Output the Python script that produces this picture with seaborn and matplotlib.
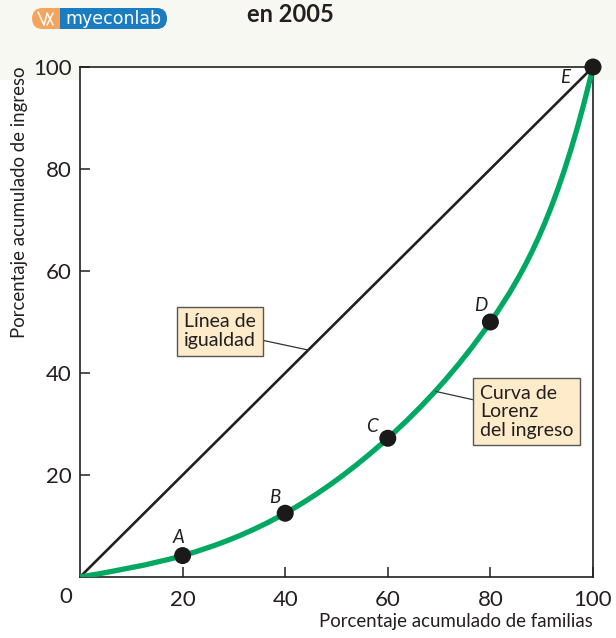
import numpy as np
import pandas as pd
import seaborn as sns
import matplotlib.pyplot as plt
from matplotlib.path import Path
from matplotlib.patches import PathPatch, FancyBboxPatch, Rectangle

# data: cumulative % of families vs cumulative % of income
familias = [0, 20, 40, 60, 80, 100]
ingreso = [0, 4.2, 12.5, 27.2, 50.0, 100]
puntos = ["", "A", "B", "C", "D", "E"]
ticks = [20, 40, 60, 80, 100]

sns.set_theme(style="white")
plt.rcParams['font.family'] = ['Lato', 'DejaVu Sans']
dark = "#231f20"
green = "#00a862"

fig = plt.figure(figsize=(6.16, 6.38), dpi=100)
fig.patch.set_facecolor("white")
# light header band
fig.add_artist(Rectangle((0, 1 - 80 / 638), 1, 80 / 638, transform=fig.transFigure,
                         facecolor="#f8f8f3", edgecolor="none", zorder=-10))

ax = fig.add_axes([80 / 616, 1 - 577 / 638, (593 - 80) / 616, (577 - 67) / 638])
ax.set_facecolor("white")

df = pd.DataFrame({"x": familias, "y": ingreso, "p": puntos})

# line of equality
sns.lineplot(x=[0, 100], y=[0, 100], color=dark, lw=1.9, ax=ax, zorder=3)

# smooth Lorenz curve through the points: C2 cubic spline drawn as Bezier segments
# (natural end at the origin, steep clamped end at E)
P = np.column_stack([familias, ingreso]).astype(float)
n = len(P)
hx = np.diff(P[:, 0])
chord = np.diff(P[:, 1]) / hx
A = np.zeros((n, n))
b = np.zeros(n)
A[0, 0], A[0, 1], b[0] = 2, 1, 3 * chord[0]
for i in range(1, n - 1):
    A[i, i - 1], A[i, i], A[i, i + 1] = 1 / hx[i - 1], 2 / hx[i - 1] + 2 / hx[i], 1 / hx[i]
    b[i] = 3 * (chord[i - 1] / hx[i - 1] + chord[i] / hx[i])
A[-1, -1], b[-1] = 1, 1.7 * chord[-1]
m = np.linalg.solve(A, b)
verts = [tuple(P[0])]
codes = [Path.MOVETO]
for i in range(n - 1):
    h = hx[i] / 3
    verts += [(P[i, 0] + h, P[i, 1] + m[i] * h),
              (P[i + 1, 0] - h, P[i + 1, 1] - m[i + 1] * h),
              tuple(P[i + 1])]
    codes += [Path.CURVE4] * 3
ax.add_patch(PathPatch(Path(verts, codes), facecolor="none", edgecolor=green,
                       lw=3.8, zorder=4, capstyle="butt"))

sns.scatterplot(data=df[df.p != ""], x="x", y="y", s=150, color="#1a1a1a",
                edgecolor="none", ax=ax, zorder=6, clip_on=False)

# point letters
offs = {"A": (-0.7, 3.6), "B": (-2, 3.1), "C": (-3, 2.3), "D": (-1.8, 3.2), "E": (-5.5, -2.0)}
for x, y, p in zip(familias, ingreso, puntos):
    if p:
        dx, dy = offs[p]
        ax.text(x + dx, y + dy, p, fontsize=13.5, style="italic", color=dark,
                ha="center", va="center", zorder=7)

ax.set_xlim(0, 100)
ax.set_ylim(0, 100)
ax.set_xticks(ticks)
ax.set_yticks(ticks)
ax.set_xticklabels([str(t) for t in ticks])
ax.set_yticklabels([str(t) for t in ticks])
ax.tick_params(direction="in", length=7, width=1.1, colors=dark, labelsize=16,
               bottom=True, left=True)
ax.tick_params(axis="x", pad=9)
ax.tick_params(axis="y", pad=6)
for sp in ax.spines.values():
    sp.set_visible(True)
    sp.set_color(dark)
    sp.set_linewidth(1.2)
ax.text(-2.7, -3.9, "0", fontsize=16, color=dark, ha="center", va="center")
ax.set_xlabel("Porcentaje acumulado de familias", fontsize=13.4, color=dark,
              ha="right", va="center")
ax.xaxis.set_label_coords(1.0, -0.088)
ax.set_ylabel("Porcentaje acumulado de ingreso", fontsize=13.4, color=dark,
              ha="right", va="center")
ax.yaxis.set_label_coords(-0.117, 1.0)

# callouts
box = dict(boxstyle="square,pad=0.35", facecolor="#fdebc9", edgecolor="#555555", lw=1)
ax.annotate("Línea de\nigualdad", xy=(44.5, 44.5), xytext=(20.3, 48.2), fontsize=14,
            color=dark, ha="left", va="center", bbox=box, linespacing=1.1,
            arrowprops=dict(arrowstyle="-", color="#333333", lw=0.9, shrinkA=0, shrinkB=0),
            zorder=8)
ax.annotate("Curva de\nLorenz\ndel ingreso", xy=(69.3, 36.4), xytext=(78.0, 32.4),
            fontsize=14, color=dark, ha="left", va="center", bbox=box, linespacing=1.1,
            arrowprops=dict(arrowstyle="-", color="#333333", lw=0.9, shrinkA=0, shrinkB=0),
            zorder=8)

# header: logo and title fragment
W, H = 616, 638
def fx(px):
    return px / W
def fy(py):
    return 1 - py / H
fig.add_artist(FancyBboxPatch((fx(32), fy(29)), fx(135), (21 / H), transform=fig.transFigure,
                              boxstyle="round,pad=0,rounding_size=0.017",
                              facecolor="#f5a45d", edgecolor="none"))
fig.add_artist(FancyBboxPatch((fx(60), fy(29)), fx(107), (21 / H), transform=fig.transFigure,
                              boxstyle="round,pad=0,rounding_size=0.017",
                              facecolor="#1a7cc1", edgecolor="none"))
fig.add_artist(Rectangle((fx(60), fy(29)), fx(20), 21 / H, transform=fig.transFigure,
                         facecolor="#1a7cc1", edgecolor="none"))
for (x0, y0, x1, y1) in [(38, 12, 44, 25), (44, 25, 47, 14), (47, 13, 53, 25), (53, 13, 47, 25)]:
    fig.add_artist(plt.Line2D([fx(x0), fx(x1)], [fy(y0), fy(y1)], transform=fig.transFigure,
                              color="white", lw=1.1))
fig.text(fx(113), fy(18.5), "myeconlab", fontsize=12.5, color="white", ha="center",
         va="center", family="DejaVu Sans")
fig.text(fx(247), fy(14), "en 2005", fontsize=17, fontweight="bold", color=dark,
         ha="left", va="center")

fig.savefig("out.png", dpi=100)
